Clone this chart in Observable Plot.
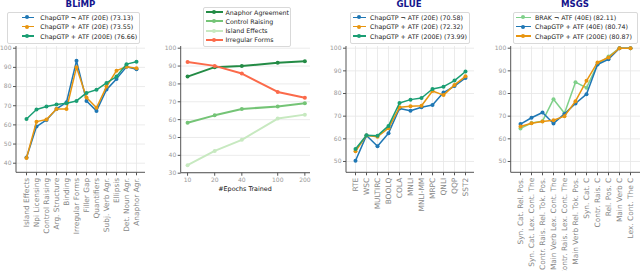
<!DOCTYPE html>
<html>
<head>
<meta charset="utf-8">
<script src="https://cdn.jsdelivr.net/npm/d3@7"></script>
<script src="https://cdn.jsdelivr.net/npm/@observablehq/plot@0.6"></script>
<style>
  body { margin: 0; background: #fff; }
  #wrap { position: relative; width: 640px; height: 271px; overflow: hidden; font-family: "DejaVu Sans", sans-serif; background:#fff; }
  .panel { position: absolute; top: 0; }
  .panel svg { overflow: visible; }
  .title { position: absolute; top: 0px; font-weight: bold; font-size: 8.6px; color: #14148c; transform: translateX(-50%); white-space: nowrap; line-height: 9px; }
  .legend { position: absolute; background: #fff; border: 0.8px solid #d9d9d9; border-radius: 2px; box-sizing: border-box; }
  .legend .ln { position: absolute; }
  .legend .dt { position: absolute; border-radius: 50%; }
  .legend .tx { position: absolute; font-size: 6.3px; color: #222; white-space: nowrap; line-height: 7px; }
  .xlabel { position: absolute; font-size: 6.4px; color: #111; transform: translateX(-50%); white-space: nowrap; }
</style>
</head>
<body>
<div id="wrap"></div>
<script>
// ---------------- DATA ----------------
const blimpCategories = ["Island Effects","Npi Licensing","Control Raising","Arg. Structure","Binding","Irregular Forms","Filler Gap","Quantifiers","Subj. Verb Agr.","Ellipsis","Det. Noun Agr.","Anaphor Agr."];
const blimpNoATF20  = [43.0, 59.1, 62.6, 68.3, 71.8, 93.4, 72.5, 67.3, 78.4, 84.0, 90.3, 89.0];
const blimpATF20    = [42.7, 61.7, 62.8, 68.3, 68.3, 90.1, 74.3, 68.9, 80.0, 88.3, 90.3, 89.6];
const blimpATF200   = [63.1, 68.0, 69.6, 70.6, 71.3, 72.5, 76.7, 78.3, 81.9, 85.2, 91.7, 92.9];
const blimpNames    = ["ChapGTP \u00ac ATF (20E) (73.13)","ChapGTP + ATF (20E) (73.55)","ChapGTP + ATF (200E) (76.66)"];

const epochs = [10, 20, 40, 100, 200];
const anaphorAgreement = [84.1, 89.4, 90.0, 91.8, 92.7];
const controlRaising   = [58.3, 62.4, 66.0, 67.3, 69.2];
const islandEffects    = [34.5, 42.5, 48.7, 60.6, 62.8];
const irregularForms   = [92.3, 90.1, 85.8, 75.5, 72.3];
const epochNames = ["Anaphor Agreement","Control Raising","Island Effects","Irregular Forms"];

const glueCategories = ["RTE","WSC","MULTIRC","BOOLQ","COLA","MNLI","MNLI-MM","MRPC","QNLI","QQP","SST2"];
const glueNoATF20  = [50.3, 61.5, 56.7, 62.5, 73.4, 72.4, 73.9, 74.9, 80.4, 83.3, 86.9];
const glueATF20    = [54.5, 61.5, 60.9, 64.7, 73.9, 74.4, 74.6, 81.1, 79.3, 83.8, 87.6];
const glueATF200   = [55.5, 61.6, 61.4, 65.7, 75.8, 77.3, 78.0, 82.0, 83.0, 85.7, 89.7];
const glueNames    = ["ChapGTP \u00ac ATF (20E) (70.58)","ChapGTP + ATF (20E) (72.32)","ChapGTP + ATF (200E) (73.99)"];

const msgsCategories = ["Syn. Cat. Rel. Pos.","Syn. Cat. Lex. Cont. The","Contr. Rais. Rel. Tok. Pos.","Main Verb Lex. Cont. The","Contr. Rais. Lex. Cont. The","Main Verb Rel. Tok. Pos.","Syn. Cat. C","Contr. Rais. C","Rel. Pos. C","Main Verb C","Lex. Cont. The C"];
const msgsBrakNoATF40 = [64.6, 67.0, 67.8, 77.5, 71.3, 85.0, 82.5, 92.8, 96.3, 100, 100];
const msgsATF40       = [66.5, 69.3, 71.6, 66.8, 71.0, 75.6, 79.7, 92.8, 95.1, 100, 100];
const msgsATF200      = [65.4, 66.9, 67.6, 68.2, 70.0, 76.6, 85.6, 93.7, 95.9, 100, 100];
const msgsNames       = ["BRAK \u00ac ATF (40E) (82.11)","ChapGTP + ATF (40E) (80.74)","ChapGTP + ATF (200E) (80.87)"];

const ticks35 = [40, 50, 60, 70, 80, 90, 100];
const ticks30 = [30, 40, 50, 60, 70, 80, 90, 100];
const ticks45 = [50, 60, 70, 80, 90, 100];

// ---------------- STYLE ----------------
const BLUE = "#1f77b4", ORANGE = "#e8950f", GREEN = "#1a9e73", LGREEN = "#7fd08a";
const G1 = "#238b45", G2 = "#74c476", G3 = "#c7e9c0", RED = "#fb6a4a";
const W = 160, H = 271;
const wrap = document.getElementById("wrap");

function spines() {
  return (index, scales, values, d) => {
    const g = document.createElementNS("http://www.w3.org/2000/svg", "g");
    g.innerHTML = `<path d="M${d.marginLeft},${d.marginTop}V${d.height - d.marginBottom}H${d.width - d.marginRight}" fill="none" stroke="#555" stroke-width="1"/>`;
    return g;
  };
}

function place(el, left) {
  const div = document.createElement("div");
  div.className = "panel";
  div.style.left = left + "px";
  div.appendChild(el);
  wrap.appendChild(div);
}

function catPanel({left, categories, series, yDomain, yTicks, mL, mR, mB, pad, sw = 1.5}) {
  const marks = [
    Plot.gridY(yTicks, {stroke: "#e6e6e6", strokeOpacity: 1, strokeWidth: 0.8}),
    Plot.gridX(categories, {stroke: "#e6e6e6", strokeOpacity: 1, strokeWidth: 0.8}),
    spines(),
    Plot.axisY(yTicks, {tickSize: 3, fontSize: 6, fill: "#999", stroke: "#555", tickPadding: 2, label: null}),
    Plot.axisX(categories, {tickSize: 3, fontSize: 7.4, fill: "#888", stroke: "#555", tickRotate: -90, tickPadding: 2, label: null})
  ];
  for (const s of series) {
    const data = s.values.map((v, i) => ({cat: categories[i], v}));
    marks.push(Plot.line(data, {x: "cat", y: "v", stroke: s.color, strokeWidth: sw}));
    marks.push(Plot.dot(data, {x: "cat", y: "v", fill: s.color, r: 2}));
  }
  const chart = Plot.plot({
    width: W, height: H,
    marginLeft: mL, marginRight: mR, marginTop: 46, marginBottom: mB,
    style: {fontFamily: "DejaVu Sans, sans-serif", background: "transparent", overflow: "visible"},
    x: {type: "point", domain: categories, padding: pad},
    y: {domain: yDomain},
    marks
  });
  place(chart, left);
}

function legend(x, y, w, h, rowYs, lx0, lx1, tx, items, lw = 1.5) {
  const div = document.createElement("div");
  div.className = "legend";
  Object.assign(div.style, {left: x + "px", top: y + "px", width: w + "px", height: h + "px"});
  items.forEach((it, i) => {
    const cy = rowYs[i] - y;
    const ln = document.createElement("div");
    ln.className = "ln";
    Object.assign(ln.style, {left: (lx0 - x) + "px", top: (cy - lw / 2 - 1) + "px", width: (lx1 - lx0) + "px", height: lw + "px", background: it.color});
    div.appendChild(ln);
    const dt = document.createElement("div");
    dt.className = "dt";
    Object.assign(dt.style, {left: ((lx0 + lx1) / 2 - x - 2.5) + "px", top: (cy - 3) + "px", width: "4px", height: "4px", background: it.color});
    div.appendChild(dt);
    const t = document.createElement("div");
    t.className = "tx";
    t.textContent = it.name;
    Object.assign(t.style, {left: (tx - x) + "px", top: (cy - 4.5) + "px"});
    div.appendChild(t);
  });
  wrap.appendChild(div);
}

function title(text, cx) {
  const d = document.createElement("div");
  d.className = "title";
  d.textContent = text;
  d.style.left = cx + "px";
  wrap.appendChild(d);
}

// ---------------- PANEL 1: BLiMP ----------------
catPanel({
  left: 0, categories: blimpCategories,
  series: [
    {values: blimpNoATF20, color: BLUE},
    {values: blimpATF20, color: ORANGE},
    {values: blimpATF200, color: GREEN}
  ],
  yDomain: [35, 100.9], yTicks: ticks35, mL: 16, mR: 15, mB: 98.7, pad: 0.56
});

// ---------------- PANEL 2: epochs ----------------
{
  const series = [
    {values: anaphorAgreement, color: G1},
    {values: controlRaising, color: G2},
    {values: islandEffects, color: G3},
    {values: irregularForms, color: RED}
  ];
  const marks = [
    Plot.gridY(ticks30, {stroke: "#e6e6e6", strokeOpacity: 1, strokeWidth: 0.8}),
    spines(),
    Plot.axisY(ticks30, {tickSize: 3, fontSize: 6, fill: "#999", stroke: "#555", tickPadding: 2, label: null}),
    Plot.ruleX(epochs, {x: d => d, y1: 30, y2: 28.3, stroke: "#555"}),
    Plot.text(epochs, {x: d => d, frameAnchor: "bottom", dy: 8.5, text: d => String(d), fontSize: 6, fill: "#999"})
  ];
  for (const s of series) {
    const data = s.values.map((v, i) => ({e: epochs[i], v}));
    marks.push(Plot.line(data, {x: "e", y: "v", stroke: s.color, strokeWidth: 2}));
    marks.push(Plot.dot(data, {x: "e", y: "v", fill: s.color, r: 2}));
  }
  const chart = Plot.plot({
    width: W, height: H,
    marginLeft: 20.7, marginRight: 10, marginTop: 46, marginBottom: 98.3,
    style: {fontFamily: "DejaVu Sans, sans-serif", background: "transparent", overflow: "visible"},
    x: {type: "log", domain: [8.5, 231], axis: null},
    y: {domain: [30, 100.95]},
    marks
  });
  place(chart, 160);
}

// ---------------- PANEL 3: GLUE ----------------
catPanel({
  left: 320, categories: glueCategories,
  series: [
    {values: glueNoATF20, color: BLUE},
    {values: glueATF20, color: ORANGE},
    {values: glueATF200, color: GREEN}
  ],
  yDomain: [45, 100.75], yTicks: ticks45, mL: 26, mR: 6, mB: 98.7, pad: 0.45
});

// ---------------- PANEL 4: MSGS ----------------
catPanel({
  left: 480, categories: msgsCategories,
  series: [
    {values: msgsBrakNoATF40, color: LGREEN},
    {values: msgsATF40, color: BLUE},
    {values: msgsATF200, color: ORANGE}
  ],
  yDomain: [45, 100.75], yTicks: ticks45, mL: 30.7, mR: 0, mB: 98.7, pad: 0.5
});

// ---------------- TITLES, LEGENDS, LABELS ----------------
title("BLiMP", 80.5);
title("GLUE", 409);
title("MSGS", 575);

const rows3 = [17.3, 26.7, 36];
legend(7, 12, 133, 31.5, rows3, 20.7, 33, 39.3,
  blimpNames.map((n, i) => ({name: n, color: [BLUE, ORANGE, GREEN][i]})));
legend(203, 7, 88, 39.5, [12.3, 21.3, 30.7, 39.7], 205, 221.7, 224.5,
  epochNames.map((n, i) => ({name: n, color: [G1, G2, G3, RED][i]})), 2);
legend(350, 12, 120, 31.5, rows3, 351.7, 365, 369,
  glueNames.map((n, i) => ({name: n, color: [BLUE, ORANGE, GREEN][i]})));
legend(513, 12, 125, 31.5, rows3, 515, 530, 534,
  msgsNames.map((n, i) => ({name: n, color: [LGREEN, BLUE, ORANGE][i]})));

const xl = document.createElement("div");
xl.className = "xlabel";
xl.textContent = "#Epochs Trained";
Object.assign(xl.style, {left: "245px", top: "185px"});
wrap.appendChild(xl);
</script>
</body>
</html>
